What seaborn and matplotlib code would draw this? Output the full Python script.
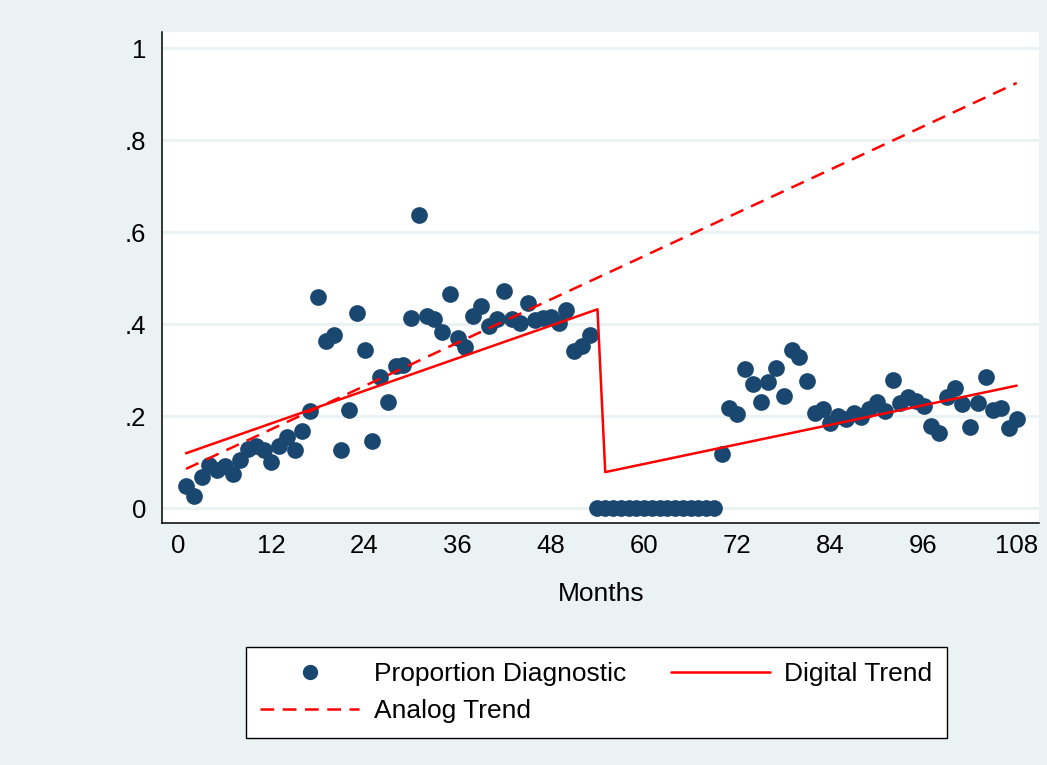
import numpy as np
import pandas as pd
import matplotlib
matplotlib.use("Agg")
import matplotlib.pyplot as plt
import seaborn as sns
from matplotlib.lines import Line2D

# ---------------- data ----------------
months = list(range(1, 109))
proportion = [
    0.048, 0.026, 0.067, 0.093, 0.083, 0.091, 0.074, 0.104, 0.128, 0.135,
    0.126, 0.100, 0.135, 0.154, 0.126, 0.167, 0.211,
    0.459, 0.363, 0.376, 0.126, 0.213, 0.424, 0.343, 0.146, 0.285, 0.230,
    0.309, 0.311, 0.413, 0.637, 0.417, 0.411, 0.383, 0.465, 0.370,
    0.350, 0.417, 0.439, 0.396, 0.411, 0.472, 0.411, 0.402, 0.446, 0.409,
    0.413, 0.415, 0.402, 0.430, 0.341, 0.352, 0.376,
    0.0, 0.0, 0.0, 0.0, 0.0, 0.0, 0.0, 0.0, 0.0, 0.0, 0.0, 0.0, 0.0, 0.0, 0.0, 0.0,
    0.117, 0.217, 0.204, 0.302, 0.270, 0.230, 0.274, 0.304, 0.243, 0.343,
    0.328, 0.276, 0.207, 0.215, 0.185, 0.200, 0.193, 0.207, 0.198,
    0.215, 0.230, 0.211, 0.278, 0.228, 0.241, 0.233, 0.222, 0.178, 0.163,
    0.241, 0.261, 0.226, 0.176, 0.228, 0.285, 0.213, 0.217, 0.174, 0.193,
]
assert len(proportion) == len(months)

digital_months = [1, 54, 55, 108]
digital_values = [0.119, 0.432, 0.078, 0.266]

analog_months = [1, 108]
analog_values = [0.085, 0.924]

xtick_labels = [0, 12, 24, 36, 48, 60, 72, 84, 96, 108]
xtick_marks = [-2.0, 10.6, 20.7, 30.6, 40.7, 50.8, 70.9, 80.9, 90.9, 100.8, 110.9]
ytick_values = [0, 0.2, 0.4, 0.6, 0.8, 1.0]
ytick_labels = ["0", ".2", ".4", ".6", ".8", "1"]

# ---------------- style ----------------
sns.set_style("white")
BG = "#EAF2F3"
NAVY = "#1A476F"
RED = "#FF0000"
plt.rcParams["font.family"] = ["Liberation Sans", "DejaVu Sans"]
plt.rcParams["text.color"] = "black"
plt.rcParams["axes.labelcolor"] = "black"
plt.rcParams["xtick.color"] = "black"
plt.rcParams["ytick.color"] = "black"
NARROW = ["Liberation Sans Narrow", "Liberation Sans", "DejaVu Sans"]
LW = 1.8
DASH = (5.5, 3.4)

fig = plt.figure(figsize=(10.47, 7.65), dpi=100, facecolor=BG)
W, H = 1047, 765
ax = fig.add_axes([162 / W, 1 - 523 / H, (1039.4 - 162) / W, (523 - 32) / H])
ax.set_facecolor("white")

df = pd.DataFrame({"Months": months, "Proportion": proportion})
dig = pd.DataFrame({"Months": digital_months, "Value": digital_values})
ana = pd.DataFrame({"Months": analog_months, "Value": analog_values})

sns.scatterplot(data=df, x="Months", y="Proportion", ax=ax, s=145,
                color=NAVY, edgecolor=NAVY, linewidth=0, zorder=3,
                legend=False)
sns.lineplot(data=dig, x="Months", y="Value", ax=ax, color=RED,
             linewidth=LW, sort=False, estimator=None, zorder=4,
             legend=False)
sns.lineplot(data=ana, x="Months", y="Value", ax=ax, color=RED,
             linewidth=LW, zorder=4, legend=False)
ax.lines[-1].set_dashes(DASH)

ax.set_xlim(-2.09, 110.92)
ax.set_ylim(-0.0326, 1.0348)

# grid
for v in ytick_values:
    ax.axhline(v, color=BG, linewidth=2.2, zorder=1)

# spines
for s in ["top", "right"]:
    ax.spines[s].set_visible(False)
for s in ["left", "bottom"]:
    ax.spines[s].set_color("black")
    ax.spines[s].set_linewidth(1.1)

# ticks
ax.set_yticks(ytick_values)
ax.set_yticklabels(ytick_labels, family=NARROW, fontsize=18.5)
ax.tick_params(axis="y", which="major", direction="out", length=7.5,
               width=1.0, color="black", labelcolor="black", pad=4)

ax.set_xticks(xtick_labels)
ax.set_xticklabels([str(v) for v in xtick_labels], family=NARROW, fontsize=18.5)
ax.set_xticks(xtick_marks, minor=True)
ax.tick_params(axis="x", which="major", length=0, pad=8, labelcolor="black")
ax.tick_params(axis="x", which="minor", direction="out", length=7.5,
               width=1.0, color="black")

ax.set_xlabel("Months", fontsize=19, labelpad=17, color="black")
ax.set_ylabel("")

# legend
h_pd = Line2D([], [], marker="o", linestyle="none", color=NAVY,
              markersize=10)
h_dt = Line2D([], [], color=RED, linewidth=LW)
h_at = Line2D([], [], color=RED, linewidth=LW, dashes=DASH)
leg = fig.legend([h_pd, h_at, h_dt],
                 ["Proportion Diagnostic", "Analog Trend", "Digital Trend"],
                 ncol=2, loc="center",
                 bbox_to_anchor=(596.5 / W, 1 - 692.5 / H),
                 fontsize=19, frameon=True, fancybox=False, framealpha=1,
                 handlelength=3.75, handletextpad=0.55, columnspacing=1.7,
                 labelspacing=0.5, borderpad=0.55, borderaxespad=0)
leg.get_frame().set_edgecolor("black")
leg.get_frame().set_linewidth(1.0)
leg.get_frame().set_facecolor("white")
for t in leg.get_texts():
    t.set_color("black")

fig.savefig("out.png", dpi=100, facecolor=BG)
